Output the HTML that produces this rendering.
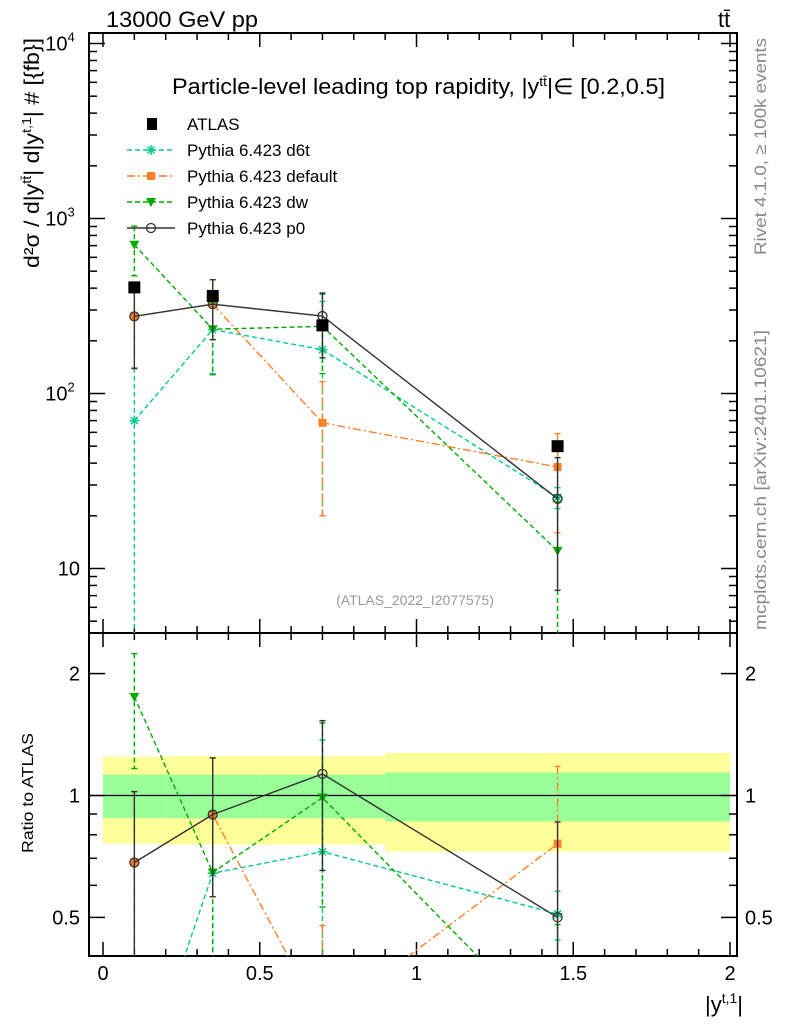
<!DOCTYPE html>
<html><head><meta charset="utf-8">
<style>
html,body{margin:0;padding:0;background:#fff;overflow:hidden;width:786px;height:1024px;}
svg{display:block;font-family:"Liberation Sans",sans-serif;}
</style></head>
<body>
<svg id="c" width="786" height="1024" viewBox="0 0 786 1024">
<defs>
<clipPath id="cm"><rect x="89" y="33" width="648" height="600"/></clipPath>
<clipPath id="cr"><rect x="89" y="633" width="648" height="323"/></clipPath>
</defs>
<text x="106" y="27" font-size="22" textLength="152" lengthAdjust="spacingAndGlyphs">13000 GeV pp</text>
<text x="718" y="27" font-size="22">tt̄</text>
<text x="172" y="94" font-size="22" textLength="493" lengthAdjust="spacingAndGlyphs">Particle-level leading top rapidity, |y<tspan dy="-8" font-size="13">tt̄</tspan><tspan dy="8">|∈ [0.2,0.5]</tspan></text>
<text x="415" y="605" font-size="14" fill="#999" text-anchor="middle">(ATLAS_2022_I2077575)</text>
<text transform="translate(766,255) rotate(-90)" font-size="17" fill="#888" textLength="217" lengthAdjust="spacingAndGlyphs">Rivet 4.1.0, ≥ 100k events</text>
<text transform="translate(766,630) rotate(-90)" font-size="17" fill="#888" textLength="300" lengthAdjust="spacingAndGlyphs">mcplots.cern.ch [arXiv:2401.10621]</text>
<text transform="translate(39,268) rotate(-90)" font-size="21" textLength="230" lengthAdjust="spacingAndGlyphs">d²σ / d|y<tspan dy="-8" font-size="13">tt̄</tspan><tspan dy="8">| d|y</tspan><tspan dy="-8" font-size="13">t,1</tspan><tspan dy="8">| # [{fb}]</tspan></text>
<text transform="translate(33,853) rotate(-90)" font-size="16" textLength="120" lengthAdjust="spacingAndGlyphs">Ratio to ATLAS</text>
<text x="743" y="1012" font-size="22" text-anchor="end">|y<tspan dy="-9" font-size="14">t,1</tspan><tspan dy="9">|</tspan></text>
<g id="bands"></g>
<g id="axes"></g>
<g id="mainSeries" clip-path="url(#cm)"></g>
<g id="ratioSeries" clip-path="url(#cr)"></g>
<g id="legend"></g>
</svg>
<script>
const binEdges=[0,0.2,0.5,0.9,2.0];
const xPoints=[0.1,0.35,0.7,1.45];
const atlas=[404,361,245,50];
const bandYellowUp=[1.246,1.25,1.25,1.275];
const bandYellowDn=[0.761,0.757,0.757,0.727];
const bandGreenUp=[1.125,1.125,1.125,1.14];
const bandGreenDn=[0.88,0.878,0.878,0.863];
const d6tVals=[70,232,178,25.5];
const d6tUp=[140,330,336,29];
const d6tDn=[1,130,20,22];
const defVals=[276,324,68,38];
const defUp=[413,447,117,59];
const defDn=[139,203,20,16];
const dwVals=[708,233,242,12.6];
const dwUp=[905,330,370,24];
const dwDn=[471,128,130,3];
const p0Vals=[276,324,277,25];
const p0Up=[413,447,375,43];
const p0Dn=[139,203,160,7.5];
const xTickLabels=["0","0.5","1","1.5","2"];
const ratioTickLabels=["0.5","1","2"];

const NS="http://www.w3.org/2000/svg";
const L=89,R=737,MT=33,MB=633,RB=956;
function X(v){return 103+v*313.5;}
function Ym(v){return 43.5+(4-Math.log10(v))*175;}
function Yr(v){return 795.5-Math.log10(v)*405;}
function mk(tag,at,parent){const e=document.createElementNS(NS,tag);for(const k in at)e.setAttribute(k,at[k]);parent.appendChild(e);return e;}
const axes=document.getElementById('axes');
const bands=document.getElementById('bands');

for(let i=0;i<4;i++){
  const x0=X(binEdges[i]),x1=X(binEdges[i+1]);
  const y=mk('rect',{x:x0,y:Yr(bandYellowUp[i]),width:x1-x0,height:Yr(bandYellowDn[i])-Yr(bandYellowUp[i]),fill:'#ffff99'},bands);
  
  
  const g=mk('rect',{x:x0,y:Yr(bandGreenUp[i]),width:x1-x0,height:Yr(bandGreenDn[i])-Yr(bandGreenUp[i]),fill:'#99ff99'},bands);
  
  
}
const one=mk('line',{x1:L,x2:R,y1:Yr(1),y2:Yr(1),stroke:'#000','stroke-width':1.3},bands);



for(const [t,b,n] of [[MT,MB,'main-frame'],[MB,RB,'ratio-frame']]){
  const f=mk('rect',{x:L,y:t,width:R-L,height:b-t,fill:'none',stroke:'#000','stroke-width':2},axes);
  
  
}
for(let k=0;k<=20;k++){
  const v=k*0.1,x=X(v),len=(k%5==0)?14:7;
  for(const [yb,yt] of [[MB,MT],[RB,MB]]){
    mk('line',{x1:x,x2:x,y1:yb,y2:yb-len,stroke:'#000','stroke-width':1.5},axes);
    mk('line',{x1:x,x2:x,y1:yt,y2:yt+len,stroke:'#000','stroke-width':1.5},axes);
  }
}
xTickLabels.forEach((s,i)=>{
  const t=mk('text',{x:X(i*0.5),y:980,'font-size':20,'text-anchor':'middle'},axes);t.textContent=s;
  
  
});
for(let d=0;d<=4;d++){
  for(let m=1;m<10;m++){
    const v=m*Math.pow(10,d),y=Ym(v);
    if(y<MT||y>MB)continue;
    const len=m==1?16:8;
    mk('line',{x1:L,x2:L+len,y1:y,y2:y,stroke:'#000','stroke-width':1.5},axes);
    mk('line',{x1:R,x2:R-len,y1:y,y2:y,stroke:'#000','stroke-width':1.5},axes);
  }
}
[[10,"10",""],[100,"10","2"],[1000,"10","3"],[10000,"10","4"]].forEach(([v,b,e])=>{
  const t=mk('text',{x:e?60:80,y:Ym(v)+7,'font-size':20,'text-anchor':e?'middle':'end'},axes);
  
  
  t.textContent=b;
  if(e){const s=mk('tspan',{dy:-9,'font-size':13},t);s.textContent=e;}
});
[0.4,0.5,0.6,0.7,0.8,0.9,1,2].forEach(v=>{
  const y=Yr(v); if(y>RB)return;
  const len=(v==0.5||v==1||v==2)?16:8;
  mk('line',{x1:L,x2:L+len,y1:y,y2:y,stroke:'#000','stroke-width':1.5},axes);
  mk('line',{x1:R,x2:R-len,y1:y,y2:y,stroke:'#000','stroke-width':1.5},axes);
});
[0.5,1,2].forEach((v,i)=>{
  const a=mk('text',{x:80,y:Yr(v)+7,'font-size':20,'text-anchor':'end'},axes);a.textContent=ratioTickLabels[i];
  
  
  const b=mk('text',{x:745,y:Yr(v)+7,'font-size':20},axes);b.textContent=ratioTickLabels[i];
  
  
});

function marker(type,x,y,col,g){
  let e;
  if(type=='square') e=mk('rect',{x:x-4,y:y-4,width:8,height:8,fill:col},g);
  else if(type=='circle') e=mk('circle',{cx:x,cy:y,r:4.5,fill:'none',stroke:'#333','stroke-width':1.3},g);
  else if(type=='tri') e=mk('path',{d:`M${x-5},${y-4}L${x+5},${y-4}L${x},${y+5}Z`,fill:col},g);
  else if(type=='star'){e=mk('path',{d:`M${x-5},${y}H${x+5}M${x},${y-5}V${y+5}M${x-3.5},${y-3.5}L${x+3.5},${y+3.5}M${x-3.5},${y+3.5}L${x+3.5},${y-3.5}`,stroke:col,'stroke-width':1.5},g);}
  else if(type=='bigsq') e=mk('rect',{x:x-6,y:y-6,width:12,height:12,fill:'#000'},g);
  return e;
}
const series=[
 {n:'d6t',v:d6tVals,u:d6tUp,d:d6tDn,col:'#00cc88',dash:'5,3',m:'star'},
 {n:'default',v:defVals,u:defUp,d:defDn,col:'#ff7f2a',dash:'8,3,2,3',m:'square'},
 {n:'dw',v:dwVals,u:dwUp,d:dwDn,col:'#00aa00',dash:'5,3',m:'tri'},
 {n:'p0',v:p0Vals,u:p0Up,d:p0Dn,col:'#333333',dash:'',m:'circle'}
];
const mg=document.getElementById('mainSeries'),rg=document.getElementById('ratioSeries');
series.forEach(s=>{
  for(const [g,Y,ratio] of [[mg,Ym,false],[rg,Yr,true]]){
    const grp=mk('g',{},g);
    
    
    const f=i=>ratio?1/atlas[i]:1;
    const pts=xPoints.map((x,i)=>X(x)+','+Y(s.v[i]*f(i))).join(' ');
    mk('polyline',{points:pts,fill:'none',stroke:s.col,'stroke-width':1.4,'stroke-dasharray':s.dash},grp);
    xPoints.forEach((x,i)=>{
      const cx=X(x);
      const yu=Y(s.u[i]*f(i)),yd=Y(s.d[i]*f(i));
      mk('line',{x1:cx,x2:cx,y1:yu,y2:yd,stroke:s.col,'stroke-width':1.4,'stroke-dasharray':s.dash},grp);
      mk('line',{x1:cx-3,x2:cx+3,y1:yu,y2:yu,stroke:s.col,'stroke-width':1.4},grp);
      mk('line',{x1:cx-3,x2:cx+3,y1:yd,y2:yd,stroke:s.col,'stroke-width':1.4},grp);
      const m=marker(s.m,cx,Y(s.v[i]*f(i)),s.col,grp);
      
      
    });
  }
});
xPoints.forEach((x,i)=>{
  const m=marker('bigsq',X(x),Ym(atlas[i]),'#000',mg);
  
  
});
const lg=document.getElementById('legend');
const entries=[['ATLAS',null],['Pythia 6.423 d6t',series[0]],['Pythia 6.423 default',series[1]],['Pythia 6.423 dw',series[2]],['Pythia 6.423 p0',series[3]]];
const rowsY=[124,150,176,202,228];
entries.forEach((e,i)=>{
  const g=mk('g',{},lg);
  
  
  const y=rowsY[i];
  if(!e[1]){mk('rect',{x:147,y:y-6,width:10,height:12,fill:'#000'},g);}
  else{
    const s=e[1];
    mk('line',{x1:127,x2:175,y1:y,y2:y,stroke:s.col,'stroke-width':1.4,'stroke-dasharray':s.dash},g);
    marker(s.m,151,y,s.col,g);
  }
  const t=mk('text',{x:187,y:y+6,'font-size':17},g);t.textContent=e[0];
});
</script>
</body></html>
